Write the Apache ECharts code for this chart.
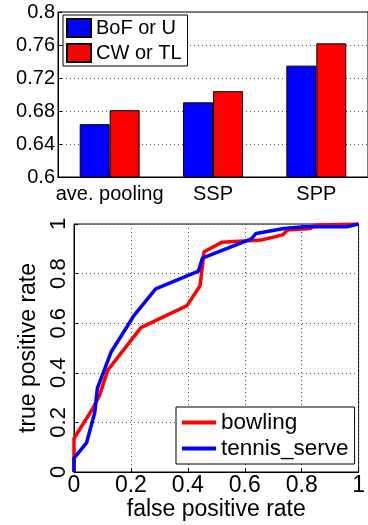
<!DOCTYPE html>
<html>
<head>
<meta charset="utf-8">
<script src="https://cdn.jsdelivr.net/npm/echarts@6/dist/echarts.min.js"></script>
<style>html,body{margin:0;padding:0;background:#fff}#c{width:368px;height:525px}</style>
</head>
<body>
<div id="c"></div>
<script>
// ---- Top bar chart data ----
var barCategories = ['ave. pooling', 'SSP', 'SPP'];
var bofValues = [0.664, 0.6905, 0.735];
var cwValues = [0.681, 0.704, 0.762];
var barYTicks = ['0.6', '0.64', '0.68', '0.72', '0.76', '0.8'];

// ---- Bottom ROC data ----
var bowlingX = [0, 0, 0.067, 0.09, 0.119, 0.235, 0.397, 0.443, 0.457, 0.519, 0.657, 0.733, 0.75, 0.831, 0.843, 1];
var bowlingY = [0, 0.135, 0.258, 0.31, 0.411, 0.582, 0.671, 0.751, 0.888, 0.926, 0.935, 0.956, 0.976, 0.982, 0.995, 1];
var tennisX = [0, 0, 0.044, 0.073, 0.082, 0.131, 0.212, 0.287, 0.4375, 0.451, 0.623, 0.64, 0.738, 0.808, 0.958, 1];
var tennisY = [0, 0.056, 0.117, 0.24, 0.337, 0.485, 0.633, 0.738, 0.81, 0.862, 0.94, 0.962, 0.982, 0.989, 0.989, 1];
var rocTicks = ['0', '0.2', '0.4', '0.6', '0.8', '1'];

function zip(a, b) { return a.map(function (v, i) { return [v, b[i]]; }); }

var FONT = 'Liberation Sans, Arial, Helvetica, sans-serif';
var dotted = { show: true, lineStyle: { color: '#555', type: [1, 3], width: 1 } };
var axisLine = { show: true, lineStyle: { color: '#000', width: 1 } };
var tick = { show: true, inside: true, length: 4, lineStyle: { color: '#000' } };

var chart = echarts.init(document.getElementById('c'), null, { renderer: 'canvas' });
chart.setOption({
  backgroundColor: '#fff',
  animation: false,
  textStyle: { fontFamily: FONT },
  grid: [
    { left: 58, top: 12, right: -11, bottom: 348, show: true, borderColor: '#000', borderWidth: 1, backgroundColor: 'transparent' },
    { left: 74, top: 224, right: 6, bottom: 53, show: true, borderColor: '#000', borderWidth: 1, backgroundColor: 'transparent' }
  ],
  legend: [
    {
      data: ['BoF or U', 'CW or TL'],
      left: 63, top: 15, orient: 'vertical',
      icon: 'rect', itemWidth: 24, itemHeight: 18, itemGap: 5, itemTextGap: 3,
      padding: [3, 6, 3, 3],
      borderColor: '#000', borderWidth: 1, backgroundColor: '#fff',
      textStyle: { fontSize: 20, color: '#000', fontFamily: FONT }
    },
    {
      data: ['bowling', 'tennis_serve'],
      left: 176, top: 407, orient: 'vertical',
      icon: 'rect', itemWidth: 34, itemHeight: 4, itemGap: 3, itemTextGap: 4,
      padding: [4, 6, 4, 6],
      borderColor: '#000', borderWidth: 1, backgroundColor: '#fff',
      textStyle: { fontSize: 22.5, color: '#000', fontFamily: FONT }
    }
  ],
  xAxis: [
    {
      gridIndex: 0, type: 'category', data: barCategories,
      axisLine: axisLine, axisTick: { show: true, inside: true, length: 4, alignWithLabel: true, lineStyle: { color: '#000' } },
      axisLabel: { fontSize: 20, color: '#000', margin: 7, interval: 0, fontFamily: FONT },
      splitLine: { show: false }
    },
    {
      gridIndex: 1, type: 'value', min: 0, max: 1, interval: 0.2,
      axisLine: axisLine, axisTick: tick,
      axisLabel: { fontSize: 23, color: '#000', margin: 2, fontFamily: FONT,
        formatter: function (v) { return rocTicks[Math.round(v / 0.2)]; } },
      splitLine: dotted,
      name: 'false positive rate', nameLocation: 'middle', nameGap: 22,
      nameTextStyle: { fontSize: 23, color: '#000', fontFamily: FONT }
    }
  ],
  yAxis: [
    {
      gridIndex: 0, type: 'value', min: 0.6, max: 0.8, interval: 0.04,
      axisLine: axisLine, axisTick: tick,
      axisLabel: { fontSize: 20, color: '#000', margin: 3, fontFamily: FONT,
        formatter: function (v) { return barYTicks[Math.round((v - 0.6) / 0.04)]; } },
      splitLine: dotted
    },
    {
      gridIndex: 1, type: 'value', min: 0, max: 1, interval: 0.2,
      axisLine: axisLine, axisTick: tick,
      axisLabel: { fontSize: 22, color: '#000', margin: 4, rotate: 90, fontFamily: FONT,
        formatter: function (v) { return rocTicks[Math.round(v / 0.2)]; } },
      splitLine: dotted,
      name: 'true positive rate', nameLocation: 'middle', nameGap: 28, nameRotate: 90,
      nameTextStyle: { fontSize: 23, color: '#000', fontFamily: FONT }
    }
  ],
  series: [
    { name: 'BoF or U', type: 'bar', xAxisIndex: 0, yAxisIndex: 0, data: bofValues,
      barGap: '0%', barCategoryGap: '42%',
      itemStyle: { color: '#0000ff', borderColor: '#000', borderWidth: 1 } },
    { name: 'CW or TL', type: 'bar', xAxisIndex: 0, yAxisIndex: 0, data: cwValues,
      barGap: '0%', barCategoryGap: '42%',
      itemStyle: { color: '#ff0000', borderColor: '#000', borderWidth: 1 } },
    { name: 'bowling', type: 'line', xAxisIndex: 1, yAxisIndex: 1, data: zip(bowlingX, bowlingY),
      symbol: 'none', lineStyle: { color: '#ff0000', width: 3.5 }, itemStyle: { color: '#ff0000' } },
    { name: 'tennis_serve', type: 'line', xAxisIndex: 1, yAxisIndex: 1, data: zip(tennisX, tennisY),
      symbol: 'none', lineStyle: { color: '#0000ff', width: 3.5 }, itemStyle: { color: '#0000ff' } }
  ]
});
</script>
</body>
</html>
